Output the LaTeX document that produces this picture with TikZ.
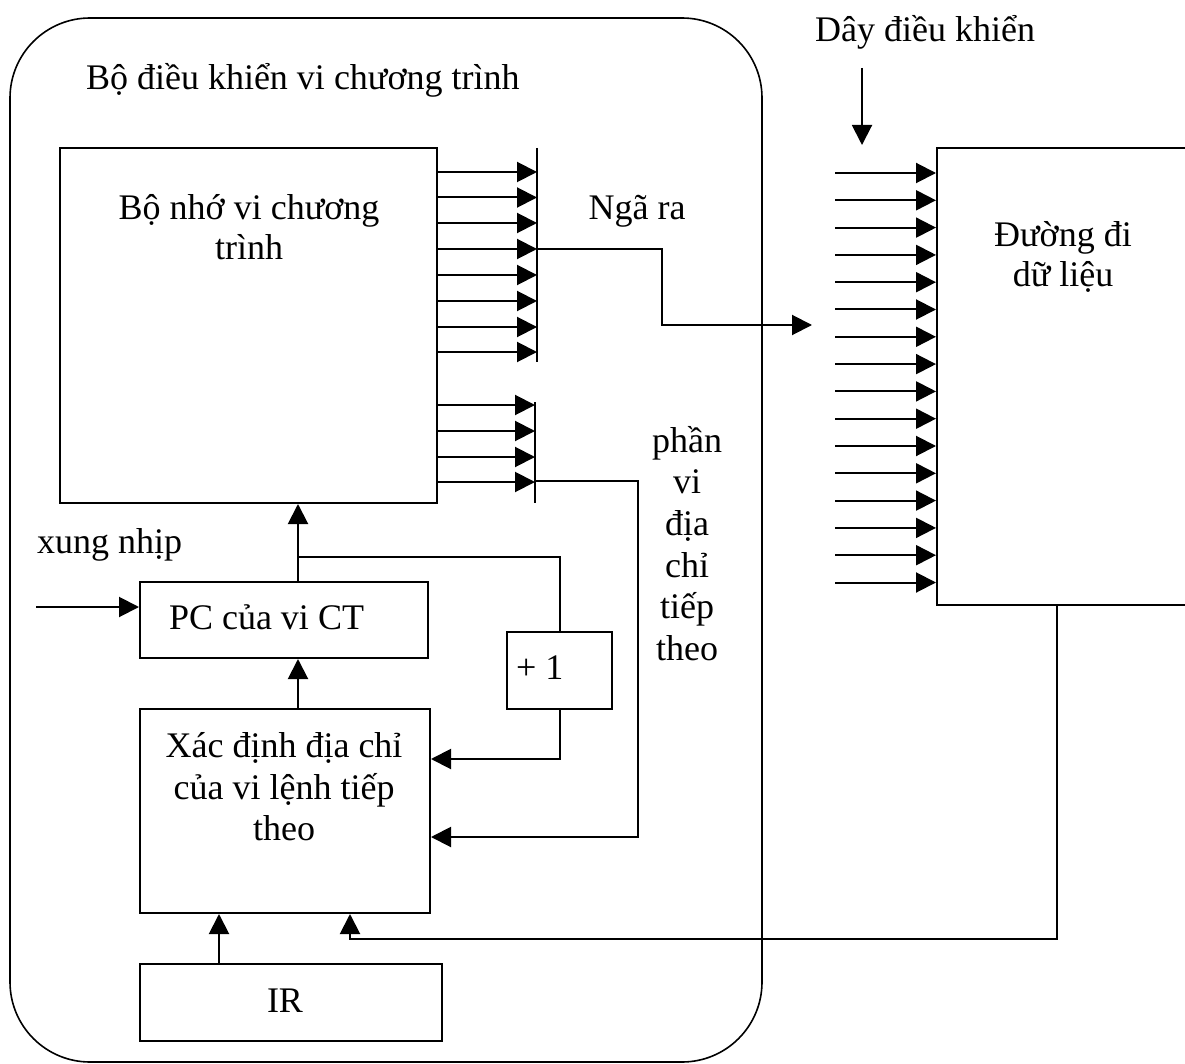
\documentclass[tikz,border=0pt]{standalone}
\usepackage{fontspec}
\setmainfont{Liberation Serif}
\usetikzlibrary{arrows.meta}
\begin{document}
\begin{tikzpicture}[x=1pt,y=-1pt,line width=2pt,
  box/.style={draw,line width=2pt,inner sep=0pt},
  arr/.style={-{Triangle[length=20pt,width=20pt]}},
  txt/.style={font=\fontsize{36}{41.5}\selectfont,inner sep=0pt}]
\useasboundingbox (0,0) rectangle (1185,1064);
% outer controller frame
\draw[line width=1.6pt,rounded corners=80pt] (10,18) rectangle (762,1062);
% boxes
\node[box,minimum width=377pt,minimum height=355pt] (mem) at (248.5,325.5) {};
\node[box,minimum width=288pt,minimum height=76pt] (pc) at (284,620) {};
\node[box,minimum width=290pt,minimum height=204pt] (xac) at (285,811) {};
\node[box,minimum width=302pt,minimum height=77pt] (ir) at (291,1002.5) {};
\node[box,minimum width=105pt,minimum height=77pt] (plus) at (559.5,670.5) {};
\node[box,minimum width=263pt,minimum height=457pt] (dp) at (1068.5,376.5) {};
% bars
\coordinate (b1t) at (537,148); \coordinate (b1b) at (537,362);
\coordinate (b2t) at (535,402); \coordinate (b2b) at (535,503);
\draw (b1t) -- (b1b);
\draw (b2t) -- (b2b);
% output arrows
\foreach \y in {172,197.5,223,249,275,301,327,352}
  \draw[arr] (mem.east |- 0,\y) -- (b1t |- 0,\y);
\foreach \y in {405,431,457,482}
  \draw[arr] (mem.east |- 0,\y) -- (b2t |- 0,\y);
% Nga ra to data path
\coordinate (o1) at (537,249);
\coordinate (dpin) at (812,325);
\draw[arr] (o1) -- (662,249) |- (dpin);
% data path control inputs
\foreach \i in {0,...,15}
  \draw[arr] (835,173+\i*27.3) -- (dp.west |- 0,173+\i*27.3);
\coordinate (c0) at (862,68);
\draw[arr] (c0) -- (862,145);
% next address field
\coordinate (o2) at (535,481);
\draw[arr] (o2) -- (638,481) |- (xac.east |- 0,837);
% PC loop
\coordinate (j) at (298,557);
\draw[arr] (j |- pc.north) -- (j |- mem.south);
\draw (j) -| (plus.north);
\draw[arr] (plus.south) |- (xac.east |- 0,759);
\draw[arr] (j |- xac.north) -- (j |- pc.south);
% clock
\coordinate (clk) at (36,607);
\draw[arr] (clk) -- (pc.west |- clk);
% IR
\coordinate (irx) at (219,964);
\draw[arr] (irx |- ir.north) -- (irx |- xac.south);
% feedback from data path
\coordinate (fb) at (1057,605);
\coordinate (fbin) at (350,939);
\draw[arr] (fb |- dp.south) |- (fbin) -- (fbin |- xac.south);
% texts
\node[txt,anchor=base west] (t1) at (85,90) {Bộ điều khiển vi chương trình};
\node[txt,anchor=base] (t2) at (249,220) {Bộ nhớ vi chương};
\node[txt,anchor=base] (t3) at (249,260) {trình};
\node[txt,anchor=base] (t4) at (637,220) {Ngã ra};
\node[txt,anchor=base] (t5) at (925,42) {Dây điều khiển};
\node[txt,anchor=base] (t6) at (1063,247) {Đường đi};
\node[txt,anchor=base] (t7) at (1063,287) {dữ liệu};
\node[txt,anchor=base] (t8) at (687,452) {phần};
\node[txt,anchor=base] (t9) at (687,493) {vi};
\node[txt,anchor=base] (t10) at (687,535) {địa};
\node[txt,anchor=base] (t11) at (687,577) {chỉ};
\node[txt,anchor=base] (t12) at (687,618) {tiếp};
\node[txt,anchor=base] (t13) at (687,660) {theo};
\node[txt,anchor=base west] (t14) at (36,553) {xung nhịp};
\node[txt,anchor=base west] (t15) at (168,629) {PC của vi CT};
\node[txt,anchor=base west] (t16) at (515,679) {+ 1};
\node[txt,anchor=base] (t17) at (284,757) {Xác định địa chỉ};
\node[txt,anchor=base] (t18) at (284,799) {của vi lệnh tiếp};
\node[txt,anchor=base] (t19) at (284,840) {theo};
\node[txt,anchor=base] (t20) at (285,1012) {IR};
\end{tikzpicture}
\end{document}
